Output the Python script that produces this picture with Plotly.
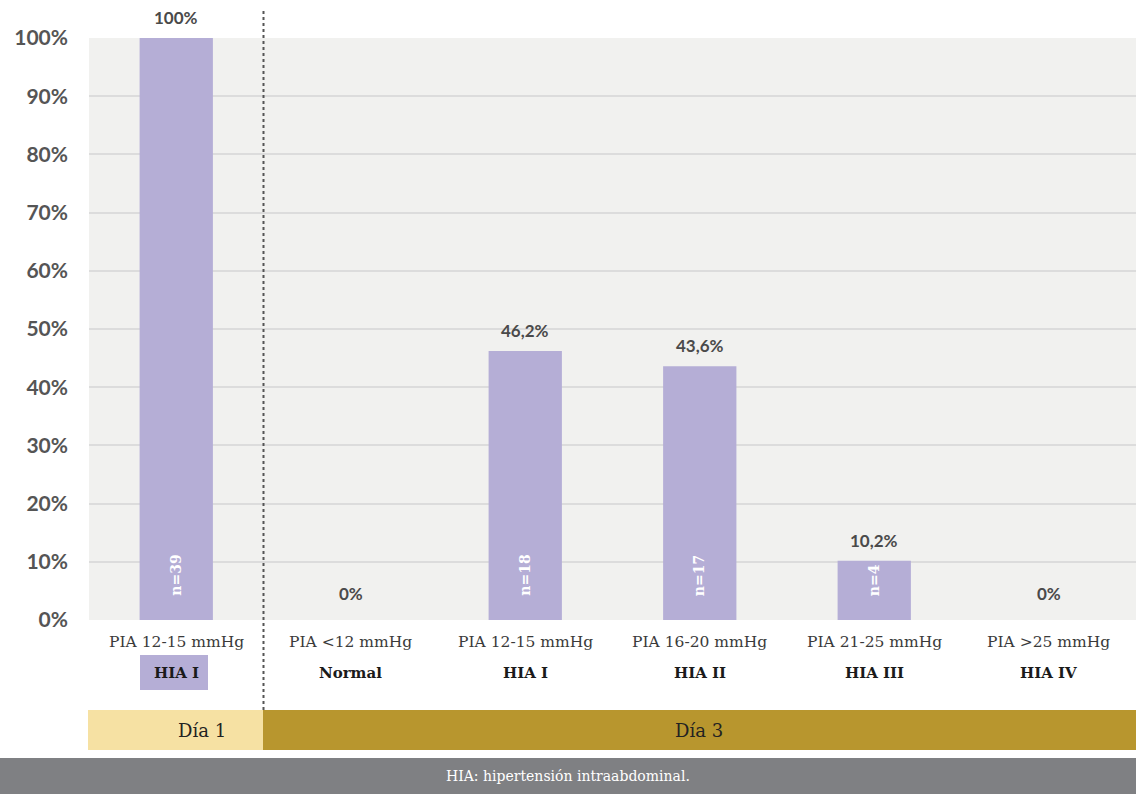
import plotly.graph_objects as go

# Categories and values
pressure_labels = ["PIA 12-15 mmHg", "PIA <12 mmHg", "PIA 12-15 mmHg",
                   "PIA 16-20 mmHg", "PIA 21-25 mmHg", "PIA >25 mmHg"]
grade_labels = ["HIA I", "Normal", "HIA I", "HIA II", "HIA III", "HIA IV"]
percentages = [100, 0, 46.2, 43.6, 10.2, 0]
counts = [39, None, 18, 17, 4, None]
y_ticks = [0, 10, 20, 30, 40, 50, 60, 70, 80, 90, 100]
day_labels = ["Día 1", "Día 3"]
footnote = "HIA: hipertensión intraabdominal."

W, H = 1136, 794
ML, MR, MT, MB = 89, 0, 38, 174
PW, PH = W - ML - MR, H - MT - MB

def px_x(p):
    return (p - ML) / PW

def px_y(p):
    return (H - MB - p) / PH

BAR = "#b5aed6"
SERIF = "DejaVu Serif"
SANS = "Lato"

xs = list(range(len(percentages)))
pct_text = [f"{v:g}".replace(".", ",") + "%" for v in percentages]

fig = go.Figure()
fig.add_trace(go.Bar(x=xs, y=percentages, width=0.42, marker_color=BAR,
                     marker_line_width=0, hoverinfo="skip"))

annotations = []
# percentage labels above the bars
for x, v, t in zip(xs, percentages, pct_text):
    annotations.append(dict(x=x, y=v, xref="x", yref="y", text=t, showarrow=False,
                            yanchor="bottom", yshift=8 if v > 0 else 14,
                            font=dict(family=SANS, size=17, color="#4a4a4a", weight="bold")))
# sample sizes inside the bars
for x, n in zip(xs, counts):
    if n is not None:
        annotations.append(dict(x=x, y=3.8, xref="x", yref="y", text=f"n={n}",
                                textangle=-90, showarrow=False, yanchor="bottom",
                                font=dict(family=SERIF, size=14, color="white", weight="bold")))
# category labels below the axis
for x, (p, g) in enumerate(zip(pressure_labels, grade_labels)):
    annotations.append(dict(x=x, y=px_y(642), xref="x", yref="paper", text=p,
                            showarrow=False, yanchor="middle",
                            font=dict(family=SERIF, size=15.5, color="#3a3a3a")))
    annotations.append(dict(x=x, y=px_y(673), xref="x", yref="paper", text=g,
                            showarrow=False, yanchor="middle",
                            font=dict(family=SERIF, size=15, color="#1a1a1a", weight="bold")))
# day bands and footnote text
annotations.append(dict(x=px_x((88 + 263) / 2), y=px_y(730), xref="paper", yref="paper",
                        text=day_labels[0], showarrow=False, yanchor="middle",
                        font=dict(family=SERIF, size=18, color="#222222")))
annotations.append(dict(x=px_x((263 + 1136) / 2), y=px_y(730), xref="paper", yref="paper",
                        text=day_labels[1], showarrow=False, yanchor="middle",
                        font=dict(family=SERIF, size=18, color="#222222")))
annotations.append(dict(x=px_x(W / 2), y=px_y(776), xref="paper", yref="paper",
                        text=footnote, showarrow=False, yanchor="middle",
                        font=dict(family=SERIF, size=14, color="white")))

shapes = [
    # highlight box behind the day-1 grade label
    dict(type="rect", xref="paper", yref="paper", x0=px_x(140), x1=px_x(208),
         y0=px_y(690), y1=px_y(655), fillcolor=BAR, line_width=0, layer="below"),
    # day bands
    dict(type="rect", xref="paper", yref="paper", x0=px_x(88), x1=px_x(263),
         y0=px_y(750), y1=px_y(710), fillcolor="#f6e1a3", line_width=0),
    dict(type="rect", xref="paper", yref="paper", x0=px_x(263), x1=px_x(W),
         y0=px_y(750), y1=px_y(710), fillcolor="#b8962e", line_width=0),
    # footnote strip
    dict(type="rect", xref="paper", yref="paper", x0=px_x(0), x1=px_x(W),
         y0=px_y(H), y1=px_y(758), fillcolor="#7f8083", line_width=0),
    # divider between day 1 and day 3
    dict(type="line", xref="x", yref="paper", x0=0.5, x1=0.5,
         y0=px_y(710), y1=px_y(8), line=dict(color="#555555", width=2, dash="dot")),
]

fig.update_layout(
    width=W, height=H, margin=dict(l=ML, r=MR, t=MT, b=MB),
    paper_bgcolor="white", plot_bgcolor="#f1f1ef",
    showlegend=False, bargap=0.58,
    annotations=annotations, shapes=shapes,
    xaxis=dict(range=[-0.5, 5.5], showticklabels=False, showgrid=False,
               zeroline=False, fixedrange=True),
    yaxis=dict(range=[0, 100], tickvals=y_ticks, ticktext=[f"{v}%" for v in y_ticks],
               showgrid=True, gridcolor="#dcdcdc", gridwidth=2, zeroline=False,
               ticklabelstandoff=20,
               tickfont=dict(family=SANS, size=21, color="#555555", weight="bold")),
)

fig.write_html("out.html")
